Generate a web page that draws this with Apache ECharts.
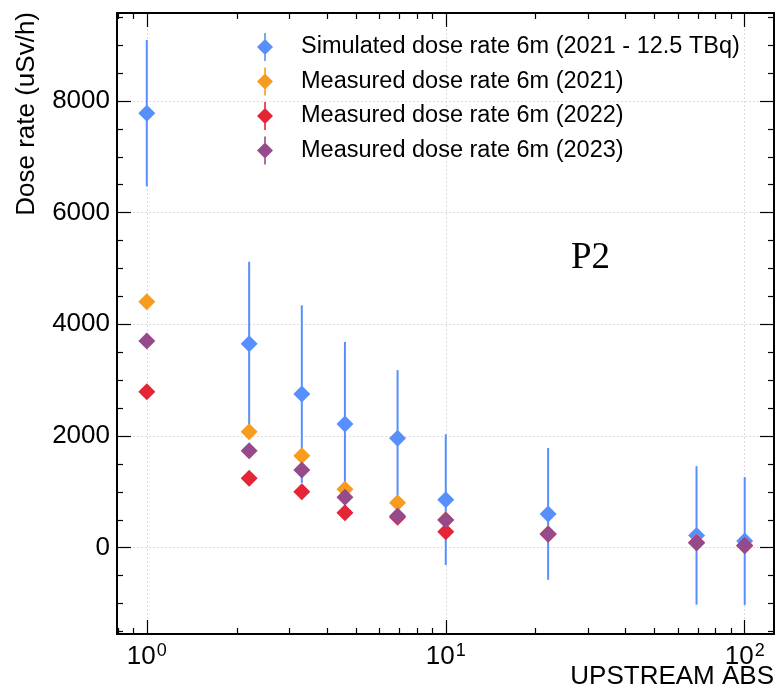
<!DOCTYPE html>
<html>
<head>
<meta charset="utf-8">
<script src="https://cdn.jsdelivr.net/npm/echarts@6/dist/echarts.min.js"></script>
<style>html,body{margin:0;padding:0;background:#fff}#chart{width:776px;height:694px}</style>
</head>
<body>
<div id="chart"></div>
<script>
const xValues = [1, 2.2, 3.3, 4.6, 6.9, 10, 22, 69, 100];
const simulated = [7780, 3650, 2750, 2215, 1960, 860, 605, 220, 120];
const simulatedErr = [1310, 1470, 1590, 1470, 1220, 1170, 1180, 1240, 1145];
const measured2021 = [4405, 2077, 1647, 1046, 806, 500, 250, 95, 40];
const measured2022 = [2793, 1243, 1003, 627, 545, 286, 240, 90, 38];
const measured2023 = [3701, 1737, 1391, 902, 568, 496, 245, 90, 36];
const seriesNames = [
  'Simulated dose rate 6m (2021 - 12.5 TBq)',
  'Measured dose rate 6m (2021)',
  'Measured dose rate 6m (2022)',
  'Measured dose rate 6m (2023)'
];
const colors = ['#5790fc', '#f89c20', '#e42536', '#964a8b'];
const xMajorTicks = [1, 10, 100];
const xMinorTicks = [0.8, 0.9, 2, 3, 4, 5, 6, 7, 8, 9, 20, 30, 40, 50, 60, 70, 80, 90];
const yMajorTicks = [0, 2000, 4000, 6000, 8000];
const yMinorTicks = [-1500, -1000, -500, 500, 1000, 1500, 2500, 3000, 3500, 4500, 5000, 5500, 6500, 7000, 7500, 8500, 9000, 9500];
const xMin = 0.795, xMax = 125.3, yMin = -1545, yMax = 9574;

const FONT = "'Liberation Sans', Arial, Helvetica, sans-serif";
const chart = echarts.init(document.getElementById('chart'));

function pair(vals) { return xValues.map((x, i) => [x, vals[i]]); }

function xAxisDef(pos, major, showLabel, showLine) {
  return {
    type: 'log', logBase: 10, position: pos, min: xMin, max: xMax,
    axisLine: { show: showLine, onZero: false, lineStyle: { color: '#000', width: 2 } },
    axisTick: { show: true, inside: true, length: major ? 14 : 6, customValues: major ? xMajorTicks : xMinorTicks, lineStyle: { color: '#000', width: 1.2 } },
    axisLabel: showLabel ? {
      show: true, customValues: xMajorTicks, margin: 8,
      formatter: v => '{b|10}{s|' + Math.round(Math.log10(v)) + '}',
      rich: {
        b: { fontFamily: FONT, fontSize: 26, color: '#000' },
        s: { fontFamily: FONT, fontSize: 18, color: '#000', padding: [0, 0, 12, 1] }
      }
    } : { show: false },
    splitLine: { show: major && showLabel, lineStyle: { color: '#dcdcdc', type: [2, 2], width: 1 } },
    minorTick: { show: false }, minorSplitLine: { show: false }
  };
}
function yAxisDef(pos, major, showLabel, showLine) {
  return {
    type: 'value', position: pos, min: yMin, max: yMax,
    axisLine: { show: showLine, onZero: false, lineStyle: { color: '#000', width: 2 } },
    axisTick: { show: true, inside: true, length: major ? 14 : 6, customValues: major ? yMajorTicks : yMinorTicks, lineStyle: { color: '#000', width: 1.2 } },
    axisLabel: showLabel ? {
      show: true, customValues: yMajorTicks, margin: 7,
      formatter: v => String(v),
      fontFamily: FONT, fontSize: 26, color: '#000'
    } : { show: false },
    splitLine: { show: major && showLabel, lineStyle: { color: '#dcdcdc', type: [2, 2], width: 1 } }
  };
}

const legendIcon = 'path://M8,6 L16,14 L8,22 L0,14 Z M7.2,0 L8.8,0 L8.8,28 L7.2,28 Z';

const option = {
  animation: false,
  backgroundColor: '#fff',
  grid: { left: 117, right: 2, top: 13, bottom: 60, containLabel: false },
  xAxis: [
    xAxisDef('bottom', true, true, true),
    xAxisDef('bottom', false, false, false),
    xAxisDef('top', true, false, true),
    xAxisDef('top', false, false, false)
  ],
  yAxis: [
    yAxisDef('left', true, true, true),
    yAxisDef('left', false, false, false),
    yAxisDef('right', true, false, true),
    yAxisDef('right', false, false, false)
  ],
  legend: {
    orient: 'vertical', left: 252, top: 28, padding: 5,
    itemWidth: 16, itemHeight: 28, itemGap: 6.5,
    data: seriesNames.map(n => ({ name: n, icon: legendIcon })),
    textStyle: { fontFamily: FONT, fontSize: 23.5, color: '#000', padding: [0, 0, 0, 23] },
    selectedMode: false
  },
  graphic: [
    { type: 'text', x: 27, y: 12, rotation: Math.PI / 2,
      style: { text: 'Dose rate (uSv/h)', font: '26px ' + FONT, fill: '#000', align: 'right', verticalAlign: 'middle' } },
    { type: 'text', x: 774, y: 677,
      style: { text: 'UPSTREAM ABS', font: '26px ' + FONT, fill: '#000', align: 'right', verticalAlign: 'middle' } },
    { type: 'text', x: 571, y: 258,
      style: { text: 'P2', font: '37px "Liberation Serif", "Times New Roman", serif', fill: '#000', align: 'left', verticalAlign: 'middle' } }
  ],
  series: [
    {
      type: 'custom', name: 'simErr', xAxisIndex: 0, yAxisIndex: 0, z: 1,
      data: xValues.map((x, i) => [x, simulated[i], simulatedErr[i]]),
      encode: { x: 0, y: 1 },
      renderItem: function (params, api) {
        const x = api.value(0), y = api.value(1), e = api.value(2);
        const t = api.coord([x, y + e]);
        const b = api.coord([x, y - e]);
        return { type: 'line', shape: { x1: t[0], y1: t[1], x2: b[0], y2: b[1] },
          style: { stroke: colors[0], lineWidth: 2 } };
      }
    },
    { type: 'scatter', name: seriesNames[0], data: pair(simulated), symbol: 'diamond', symbolSize: 17, itemStyle: { color: colors[0], opacity: 1 }, z: 2 },
    { type: 'scatter', name: seriesNames[1], data: pair(measured2021), symbol: 'diamond', symbolSize: 17, itemStyle: { color: colors[1], opacity: 1 }, z: 3 },
    { type: 'scatter', name: seriesNames[2], data: pair(measured2022), symbol: 'diamond', symbolSize: 17, itemStyle: { color: colors[2], opacity: 1 }, z: 4 },
    { type: 'scatter', name: seriesNames[3], data: pair(measured2023), symbol: 'diamond', symbolSize: 17, itemStyle: { color: colors[3], opacity: 1 }, z: 5 }
  ]
};
chart.setOption(option);
</script>
</body>
</html>
